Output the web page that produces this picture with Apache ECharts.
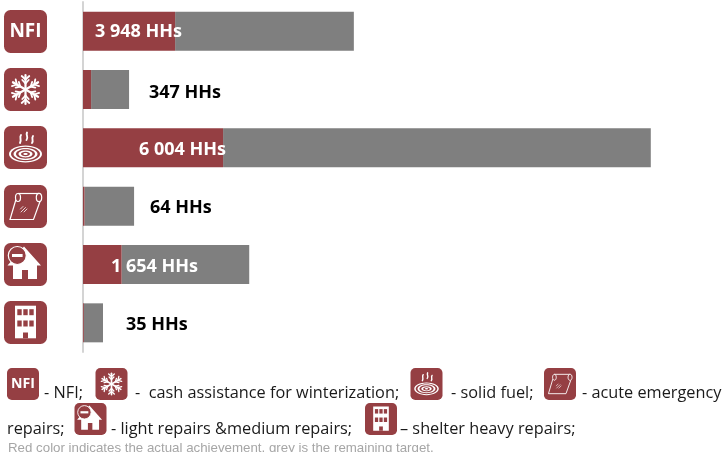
<!DOCTYPE html>
<html><head><meta charset="utf-8">
<style>html,body{margin:0;padding:0;background:#fff}#c{width:724px;height:452px}</style>
<script src="https://cdn.jsdelivr.net/npm/echarts@6/dist/echarts.min.js"></script>
</head><body><div id="c"></div>
<script>
const categories = ['NFI','Cash assistance for winterization','Solid fuel','Acute emergency repairs','Light & medium repairs','Shelter heavy repairs'];
const achieved = [3948,347,6004,64,1654,35];
const remaining = [7660,1627,18330,2125,5470,823];
const valueLabels = ['3 948 HHs','347 HHs','6 004 HHs','64 HHs','1 654 HHs','35 HHs'];
const labelColors = ['#fff','#000','#fff','#000','#fff','#000'];
const labelOffsets = [12,66,56,67,28,43];
const labelShifts = [1,3,2,2,2,2];
const legendLine1 = ['- NFI;','-  cash assistance for winterization;','- solid fuel;','- acute emergency'];
const legendLine2 = ['repairs;','- light repairs &medium repairs;','– shelter heavy repairs;'];
const footnote = 'Red color indicates the actual achievement, grey is the remaining target.';

const RED='#953f43', GREY='#7f7f7f', W='#fff';
const FONT='"Open Sans"';
function L(x1,y1,x2,y2,w){return {type:'line',shape:{x1,y1,x2,y2},style:{stroke:W,lineWidth:w||1.5,lineCap:'round'}};}
function glyph(kind){
  if(kind==='nfi') return [{type:'text',style:{text:'NFI',x:21.5,y:22,align:'center',verticalAlign:'middle',fill:W,font:'700 19px '+FONT}}];
  if(kind==='snow'){
    const out=[];const cx=21.5,cy=21.5;
    for(let i=0;i<6;i++){
      const a=i*Math.PI/3-Math.PI/2,c=Math.cos(a),s=Math.sin(a);
      const P=(r,t)=>[cx+r*c-t*s,cy+r*s+t*c];
      const p=P(14.5,0);out.push(L(cx,cy,p[0],p[1],2.2));
      [[10,0,13.5,3.8],[10,0,13.5,-3.8],[6,0,9.5,3.2],[6,0,9.5,-3.2]].forEach(b=>{
        const A=P(b[0],b[1]),B=P(b[2],b[3]);out.push(L(A[0],A[1],B[0],B[1],1.8));
      });
    }
    return out;
  }
  if(kind==='fuel'){
    const out=[{type:'ellipse',shape:{cx:21.5,cy:28,rx:16.5,ry:8.5},style:{fill:W}}];
    [[14.5,7.2,RED],[12,6,W],[9.5,4.7,RED],[7,3.4,W],[4.5,2.2,RED],[2.2,1,W]].forEach(r=>{
      out.push({type:'ellipse',shape:{cx:21.5,cy:28,rx:r[0],ry:r[1]},style:{fill:r[2]}});
    });
    [[16,17,18,13,15,12,17,9],[22.5,14,25,11,21.5,9.5,23,6.5],[28,17,30,14,27,13,29,10]].forEach(q=>{
      out.push({type:'bezierCurve',shape:{x1:q[0],y1:q[1],cpx1:q[2],cpy1:q[3],cpx2:q[4],cpy2:q[5],x2:q[6],y2:q[7]},style:{stroke:W,fill:null,lineWidth:1.9,lineCap:'round'}});
    });
    return out;
  }
  if(kind==='roll'){
    return [
      {type:'polyline',shape:{points:[[14,8.5],[35,8.5]]},style:{stroke:W,lineWidth:1.2,fill:null}},
      {type:'ellipse',shape:{cx:14,cy:12.5,rx:2.5,ry:4},style:{stroke:W,lineWidth:1.2,fill:null}},
      {type:'polyline',shape:{points:[[11.8,15],[6,34.5],[29.5,34.5],[36,16.5]]},style:{stroke:W,lineWidth:1.2,fill:null}},
      {type:'ellipse',shape:{cx:35,cy:12.5,rx:2.7,ry:4.2},style:{stroke:W,lineWidth:1.2,fill:RED}},
      L(16.5,24,19,21.5,0.8),L(17,27,21.5,22.5,0.8),L(20,27,23,24,0.8)
    ];
  }
  if(kind==='house'){
    return [
      {type:'polygon',shape:{points:[[20,3.5],[37,22.5],[33,22.5],[33,36],[24,36],[24,27],[18,27],[18,36],[9,36],[9,22.5],[3.5,22.5]]},style:{fill:W}},
      {type:'circle',shape:{cx:13.3,cy:12.5,r:9},style:{fill:RED,stroke:W,lineWidth:1.2}},
      {type:'rect',shape:{x:8,y:11,width:10.6,height:3},style:{fill:W}}
    ];
  }
  if(kind==='building'){
    const out=[{type:'rect',shape:{x:11,y:4.7,width:21,height:32.6},style:{fill:W}}];
    [8.2,19.5].forEach(y=>[13.3,19.3,25.3].forEach(x=>out.push({type:'rect',shape:{x,y,width:4.4,height:6},style:{fill:RED}})));
    out.push({type:'rect',shape:{x:19,y:31.5,width:5,height:5.8},style:{fill:RED}});
    return out;
  }
  return [];
}
function icon(kind,x,y,size){
  const s=size/43;
  return {type:'group',x,y,scaleX:s,scaleY:s,silent:true,children:[
    {type:'rect',shape:{x:0,y:0,width:43,height:43,r:6.5},style:{fill:RED}}
  ].concat(glyph(kind))};
}
function T(text,x,cy,size,color,font){
  return {type:'text',x,y:cy,silent:true,style:{text,fill:color||'#1a1a1a',font:(size||16)+'px '+(font||FONT),verticalAlign:'middle',align:'left'}};
}
const kinds=['nfi','snow','fuel','roll','house','building'];
const iconTops=[10,68,126,185,243,301];
const graphics=[];
kinds.forEach((k,i)=>graphics.push(icon(k,4,iconTops[i],43)));
[['nfi',7,368],['snow',95.5,368],['fuel',410.5,368],['roll',544,368],['house',74.5,403],['building',365,403]].forEach(a=>graphics.push(icon(a[0],a[1],a[2],32)));
[44,135,451,582].forEach((x,i)=>graphics.push(T(legendLine1[i],x,393,16.3)));
[7,111,400].forEach((x,i)=>graphics.push(T(legendLine2[i],x,429,16.3)));
graphics.push(T(footnote,8,448,13.3,'#a6a6a6','"Liberation Sans"'));

const chart=echarts.init(document.getElementById('c'),null,{renderer:'canvas'});
chart.setOption({
  animation:false,
  grid:{left:83,top:2,width:630,height:350,containLabel:false},
  xAxis:{type:'value',min:0,max:27000,show:false},
  yAxis:{type:'category',inverse:true,data:categories,offset:1,
    axisLine:{show:true,lineStyle:{color:'#d4d4d4',width:2}},axisTick:{show:false},axisLabel:{show:false},splitLine:{show:false}},
  series:[
    {name:'Achieved',type:'bar',stack:'t',barWidth:39,itemStyle:{color:RED},
     data:achieved.map((v,i)=>({value:v,label:{show:true,position:'insideLeft',distance:0,offset:[labelOffsets[i],labelShifts[i]],formatter:valueLabels[i],color:labelColors[i],fontFamily:FONT,fontWeight:700,fontSize:18}})),z:3},
    {name:'Remaining',type:'bar',stack:'t',barWidth:39,itemStyle:{color:GREY},data:remaining,z:2}
  ],
  graphic:graphics
});
</script></body></html>
